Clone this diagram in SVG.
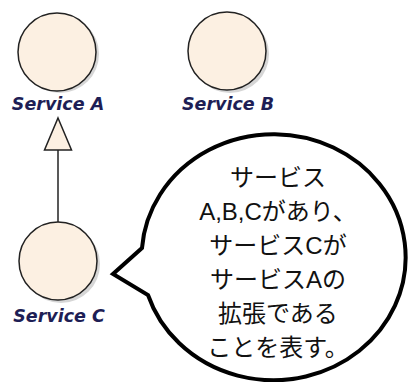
<svg xmlns="http://www.w3.org/2000/svg" width="413" height="382" viewBox="0 0 413 382">
<defs>
<style>
.svc{fill:#fcf0e2;stroke:#222;stroke-width:1.5}
.shadow{fill:#bbb;opacity:0.6}
.lbl{font-family:"DejaVu Sans",Verdana,sans-serif;font-weight:bold;font-style:italic;font-size:17.5px;fill:#1e1e55;text-anchor:middle}
.note{font-family:"Liberation Sans","Noto Sans CJK JP",sans-serif;font-size:24px;fill:#111;text-anchor:middle}
</style>
</defs>
<rect width="413" height="382" fill="#fff"/>
<g id="serviceA">
<circle class="shadow" cx="60" cy="54" r="39"/>
<circle class="svc" cx="57" cy="52" r="39"/>
<text class="lbl" x="58" y="110">Service A</text>
</g>
<g id="serviceB">
<circle class="shadow" cx="230" cy="54" r="39"/>
<circle class="svc" cx="227" cy="51" r="39"/>
<text class="lbl" x="228" y="110">Service B</text>
</g>
<g id="serviceC">
<circle class="shadow" cx="61" cy="264" r="39"/>
<circle class="svc" cx="58" cy="261" r="39"/>
<text class="lbl" x="59" y="322">Service C</text>
</g>
<g id="connectors">
<line x1="58" y1="150" x2="58" y2="222" stroke="#222" stroke-width="1.5"/>
<polygon points="58,118 71.5,150 44.5,150" fill="#fcf0e2" stroke="#222" stroke-width="1.5" stroke-linejoin="miter"/>
</g>
<g id="note">
<path d="M142,248 A132,123 0 1 1 148,295 L113,274 Z" fill="#fff" stroke="#000" stroke-width="4" stroke-linejoin="miter"/>
<text class="note" x="278" y="186">サービス</text>
<text class="note" x="278" y="220">A,B,Cがあり、</text>
<text class="note" x="278" y="254">サービスCが</text>
<text class="note" x="278" y="288">サービスAの</text>
<text class="note" x="278" y="322">拡張である</text>
<text class="note" x="278" y="356">ことを表す。</text>
</g>
</svg>
